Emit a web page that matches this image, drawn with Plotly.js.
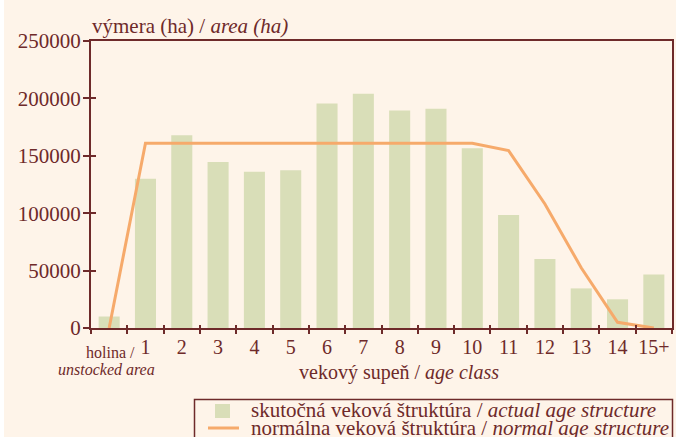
<!DOCTYPE html>
<html>
<head>
<meta charset="utf-8">
<script src="https://cdn.plot.ly/plotly-3.0.1.min.js"></script>
<style>
  html, body { margin: 0; padding: 0; background: #ffffff; }
  #chart { position: absolute; left: 4px; top: 0px; width: 672px; height: 437px; }
</style>
</head>
<body>
<div id="chart"></div>
<script>
// ---- data ----
const categories = ['holina', '1', '2', '3', '4', '5', '6', '7', '8', '9', '10', '11', '12', '13', '14', '15+'];
const tickLabels = ['', '1', '2', '3', '4', '5', '6', '7', '8', '9', '10', '11', '12', '13', '14', '15+'];
const actualArea = [10000, 130000, 168000, 144500, 136000, 137500, 195500, 204000, 189500, 191000, 156500, 98500, 60000, 34500, 25000, 46500];
const normalArea = [0, 161000, 161000, 161000, 161000, 161000, 161000, 161000, 161000, 161000, 161000, 154500, 108000, 52500, 5000, 0];
const yTicks = [0, 50000, 100000, 150000, 200000, 250000];

const actualName = 'skutočná veková štruktúra / <i>actual age structure</i>';
const normalName = 'normálna veková štruktúra / <i>normal age structure</i>';
const yTitle = 'výmera (ha) / <i>area (ha)</i>';
const xTitle = 'vekový supeň / <i>age class</i>';

// ---- style ----
const maroon = '#6e2a2a';
const cream = '#fef4e9';
const barColor = '#d9deb8';
const lineColor = '#f6aa6b';
const font = 'Liberation Serif';

// plot box in page pixels (page = div + 4px)
const L = 91, R = 672, T = 41, B = 328;
const px = x => (x - L) / (R - L);
const py = y => (B - y) / (B - T);

const boundaries = categories.slice(0, -1).map((c, i) => i + 0.5);

const traces = [
  {
    type: 'bar', x: categories, y: actualArea, name: actualName,
    marker: { color: barColor }, hoverinfo: 'x+y'
  },
  {
    type: 'scatter', mode: 'lines', x: categories, y: normalArea, name: normalName,
    line: { color: lineColor, width: 3 }, hoverinfo: 'x+y'
  },
  {
    type: 'scatter', x: [null], y: [null], xaxis: 'x2', yaxis: 'y2',
    showlegend: false, hoverinfo: 'skip'
  }
];

const layout = {
  width: 672, height: 437,
  margin: { l: L - 4, r: 676 - R, t: T, b: 437 - B, pad: 0 },
  paper_bgcolor: cream, plot_bgcolor: cream,
  showlegend: false,
  bargap: 0.42,
  font: { family: font, color: maroon, size: 21 },
  xaxis: {
    type: 'category', categoryorder: 'array', categoryarray: categories,
    range: [-0.5, categories.length - 0.5],
    tickmode: 'array', tickvals: categories, ticktext: tickLabels, tickangle: 0,
    tickson: 'boundaries', ticks: 'outside', ticklen: 4, tickwidth: 2, tickcolor: maroon,
    showline: true, linecolor: maroon, linewidth: 2, mirror: true,
    showgrid: false, zeroline: false,
    tickfont: { size: 20, color: maroon, family: font }
  },
  yaxis: {
    range: [0, 250000], tickmode: 'array', tickvals: yTicks, ticktext: yTicks.map(String),
    ticks: 'outside', ticklen: 6, tickwidth: 2, tickcolor: maroon, ticklabelstandoff: -2,
    showline: true, linecolor: maroon, linewidth: 2, mirror: true,
    showgrid: false, zeroline: false,
    tickfont: { size: 21, color: maroon, family: font }
  },
  xaxis2: {
    overlaying: 'x', side: 'bottom', range: [-0.5, categories.length - 0.5],
    tickmode: 'array', tickvals: boundaries, ticks: 'inside', ticklen: 3, tickwidth: 2, tickcolor: maroon,
    showticklabels: false, showline: false, showgrid: false, zeroline: false
  },
  yaxis2: {
    overlaying: 'y', side: 'left', range: [0, 250000],
    tickmode: 'array', tickvals: yTicks, ticks: 'inside', ticklen: 5, tickwidth: 2, tickcolor: maroon,
    showticklabels: false, showline: false, showgrid: false, zeroline: false
  },
  annotations: [
    { text: yTitle, xref: 'paper', yref: 'paper', x: 0, y: 1, xanchor: 'left', yanchor: 'middle',
      xshift: -1, yshift: 15, showarrow: false, font: { size: 21 } },
    { text: xTitle, xref: 'paper', yref: 'paper', x: px(398.5), y: py(372), xanchor: 'center', yanchor: 'middle',
      showarrow: false, font: { size: 20 } },
    { text: 'holina /', xref: 'x', yref: 'paper', x: categories[0], y: py(352), xanchor: 'center', yanchor: 'middle',
      xshift: 1, showarrow: false, font: { size: 16 } },
    { text: '<i>unstocked area</i>', xref: 'x', yref: 'paper', x: categories[0], y: py(369), xanchor: 'center', yanchor: 'middle',
      xshift: -3, showarrow: false, font: { size: 16 } },
    { text: actualName, xref: 'paper', yref: 'paper', x: px(249), y: py(410), xanchor: 'left', yanchor: 'middle',
      showarrow: false, font: { size: 21 } },
    { text: normalName, xref: 'paper', yref: 'paper', x: px(249), y: py(428), xanchor: 'left', yanchor: 'middle',
      showarrow: false, font: { size: 21 } }
  ],
  shapes: [
    { type: 'rect', xref: 'paper', yref: 'paper', x0: px(194.5), x1: px(672.5), y0: py(399.5), y1: py(460),
      line: { color: maroon, width: 1.5 }, fillcolor: cream, layer: 'below' },
    { type: 'rect', xref: 'paper', yref: 'paper', x0: px(215), x1: px(230), y0: py(404), y1: py(418),
      line: { width: 0 }, fillcolor: barColor },
    { type: 'line', xref: 'paper', yref: 'paper', x0: px(208), x1: px(239), y0: py(428), y1: py(428),
      line: { color: lineColor, width: 3 } }
  ]
};

Plotly.newPlot('chart', traces, layout, { displayModeBar: false, staticPlot: true });
</script>
</body>
</html>
